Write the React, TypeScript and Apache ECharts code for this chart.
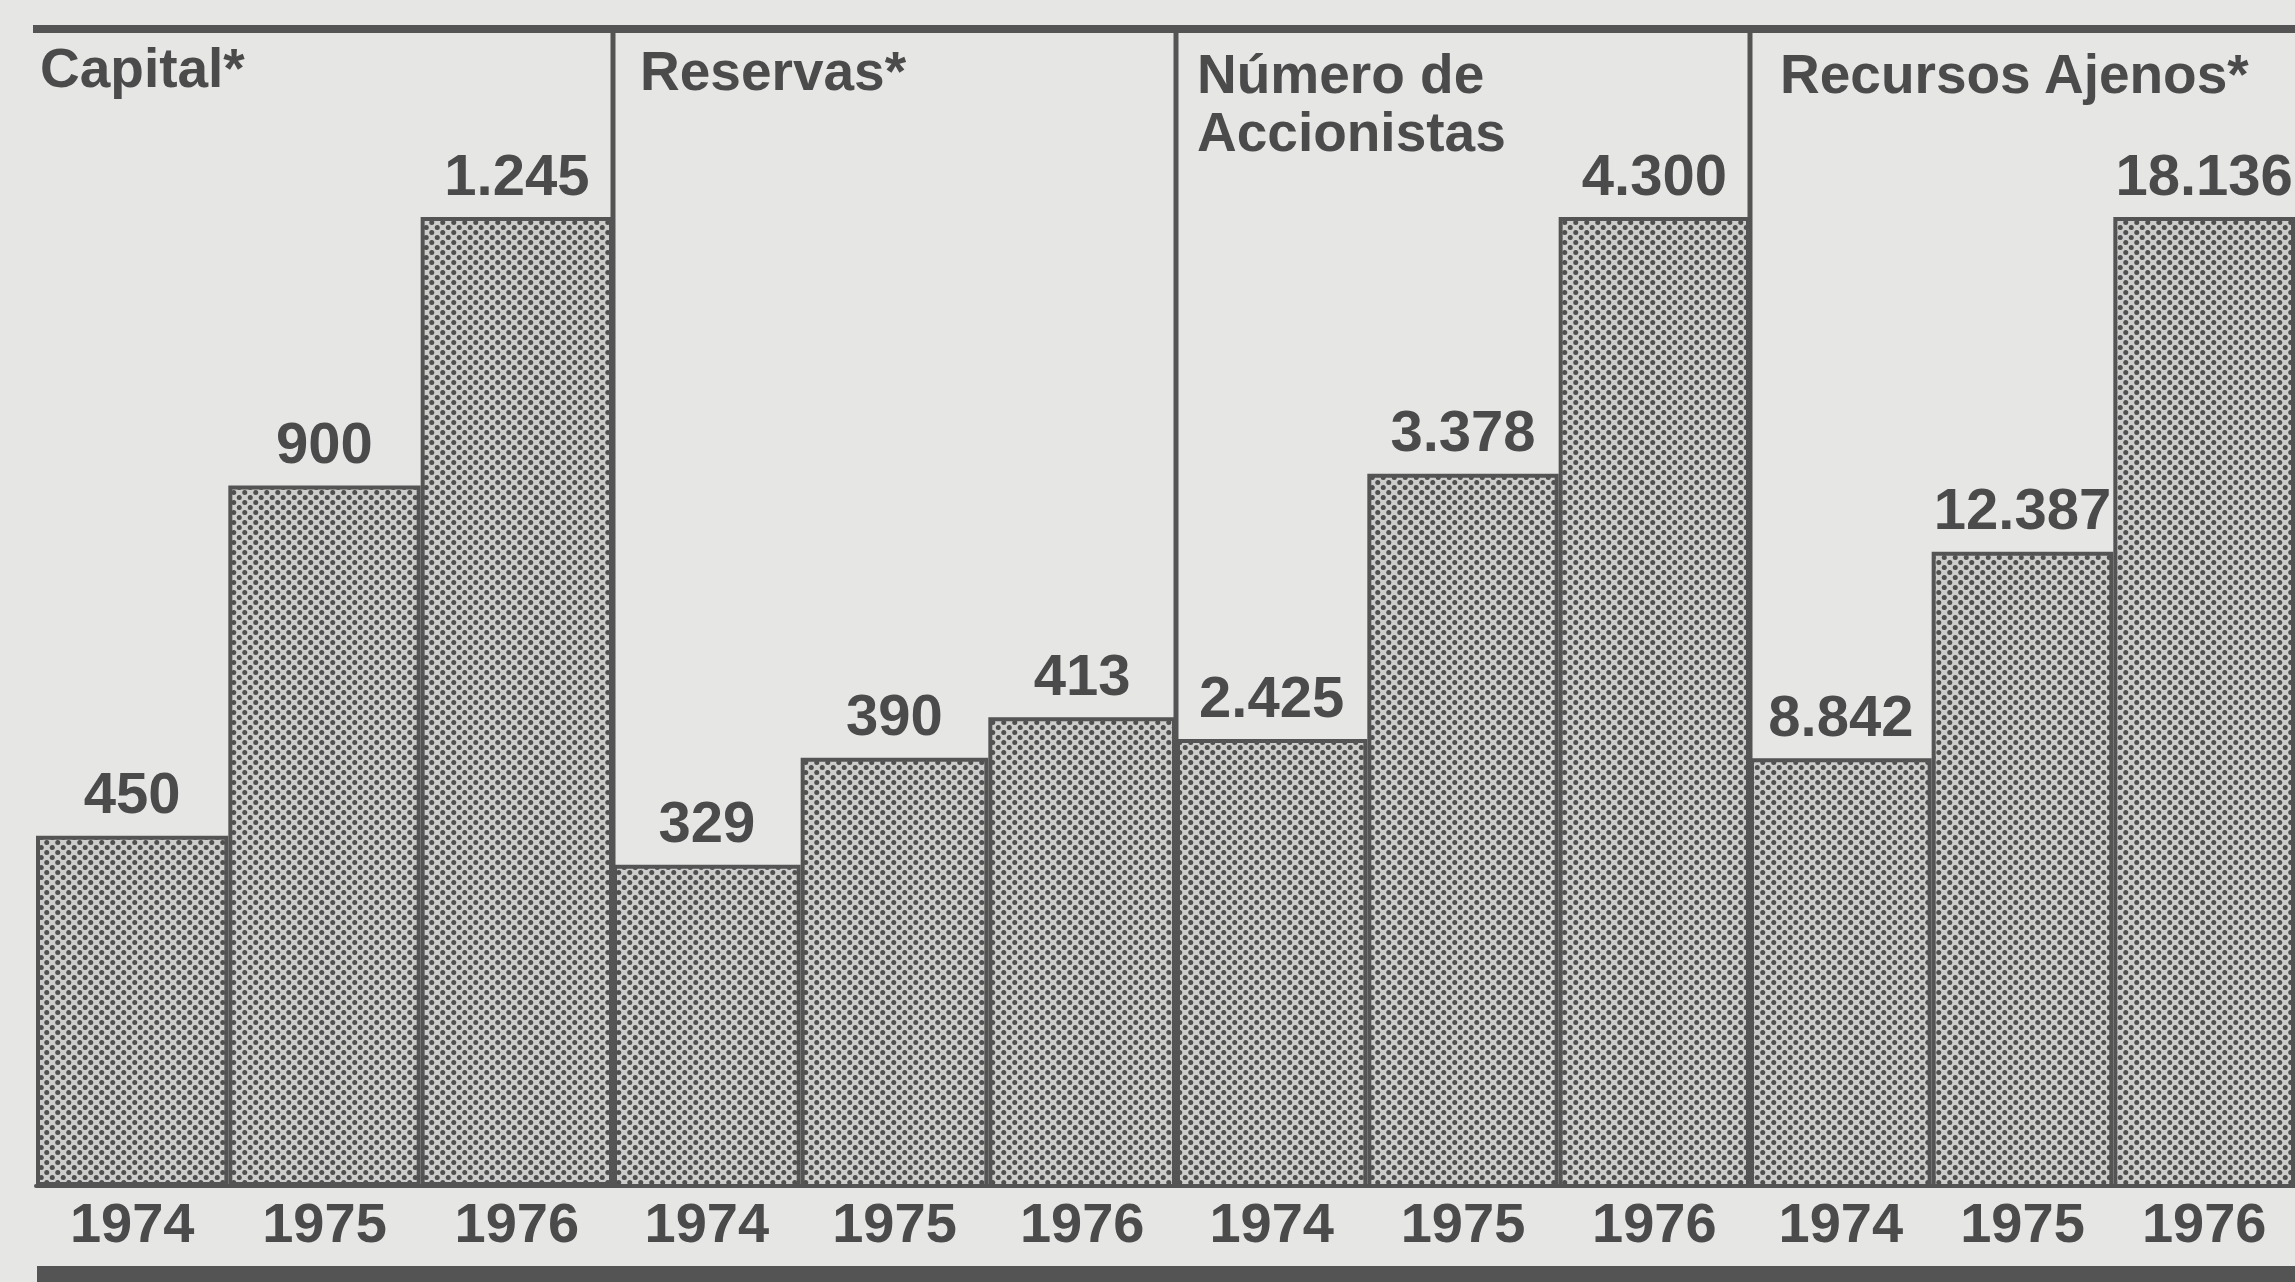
import React, { useEffect, useRef } from 'react';
import * as echarts from 'echarts';

// ---- data ----
const years = ['1974', '1975', '1976'];
const panelTitles = ['Capital*', 'Reservas*', 'Número de\nAccionistas', 'Recursos Ajenos*'];
const capital = [450, 900, 1245];
const reservas = [329, 390, 413];
const accionistas = [2425, 3378, 4300];
const recursosAjenos = [8842, 12387, 18136];
// per-panel value-axis ranges (each panel has its own scale)
const axisMin = [0, 146, 820, 1500];
const axisMax = [1245, 698, 4300, 18136];

const panels = [capital, reservas, accionistas, recursosAjenos];

// ---- layout ----
const W = 2295;
const H = 1282;
const panelLeft = [36, 613, 1176, 1750];
const panelWidth = [577, 563, 574, 572];
const gridTop = 217;
const baseY = 1186;
const titlePos = [
  [40, 39],
  [640, 42],
  [1197, 45],
  [1780, 45],
];
const FONT = '"Liberation Sans", Arial, Helvetica, sans-serif';
const INK = '#4b4b4b';
const LINE = '#545454';

function fmt(v: number): string {
  return String(v).replace(/\B(?=(\d{3})+(?!\d))/g, '.');
}

function makePattern(): HTMLCanvasElement {
  const c = document.createElement('canvas');
  c.width = 11;
  c.height = 10;
  const ctx = c.getContext('2d')!;
  ctx.fillStyle = '#cdcdcb';
  ctx.fillRect(0, 0, 11, 10);
  ctx.fillStyle = '#4f4f4f';
  const pts = [
    [2.75, 2.5],
    [8.25, 7.5],
  ];
  for (const [x, y] of pts) {
    ctx.beginPath();
    ctx.arc(x, y, 2.5, 0, Math.PI * 2);
    ctx.fill();
  }
  return c;
}

export default function App() {
  const ref = useRef<HTMLDivElement>(null);

  useEffect(() => {
    document.body.style.margin = '0';
    document.body.style.background = '#e6e6e4';
    if (!ref.current) return;
    const chart = echarts.init(ref.current, undefined, { renderer: 'svg' });
    const pattern = { image: makePattern(), repeat: 'repeat' };

    const grid = panels.map((_, i) => ({
      left: panelLeft[i],
      width: panelWidth[i],
      top: gridTop,
      bottom: H - baseY,
      containLabel: false,
    }));

    const xAxis = panels.map((_, i) => ({
      type: 'category',
      gridIndex: i,
      data: years,
      boundaryGap: true,
      axisLine: { show: true, lineStyle: { color: LINE, width: 4 } },
      axisTick: { show: false },
      axisLabel: {
        fontSize: 56,
        fontWeight: 'bold',
        fontFamily: FONT,
        color: INK,
        margin: 8,
      },
    }));

    const yAxis = panels.map((_, i) => ({
      type: 'value',
      gridIndex: i,
      min: axisMin[i],
      max: axisMax[i],
      show: false,
      splitLine: { show: false },
    }));

    const series = panels.map((vals, i) => ({
      type: 'bar',
      xAxisIndex: i,
      yAxisIndex: i,
      data: vals,
      barWidth: '100%',
      barCategoryGap: '0%',
      clip: true,
      itemStyle: {
        color: pattern,
        borderColor: LINE,
        borderWidth: 4,
      },
      label: {
        show: true,
        position: 'top',
        distance: 14,
        fontSize: 58,
        fontWeight: 'bold',
        fontFamily: FONT,
        color: INK,
        formatter: (p: any) => fmt(p.value),
      },
    }));

    const graphic: any[] = [
      {
        type: 'line',
        shape: { x1: 33, y1: 29, x2: W, y2: 29 },
        style: { stroke: LINE, lineWidth: 8 },
        z: 10,
      },
      {
        type: 'rect',
        shape: { x: 37, y: 1266, width: W - 37, height: 16 },
        style: { fill: LINE },
        z: 10,
      },
    ];
    for (let i = 1; i < panelLeft.length; i++) {
      graphic.push({
        type: 'line',
        shape: { x1: panelLeft[i], y1: 29, x2: panelLeft[i], y2: baseY },
        style: { stroke: LINE, lineWidth: 5 },
        z: 10,
      });
    }
    panelTitles.forEach((t, i) => {
      graphic.push({
        type: 'text',
        x: titlePos[i][0],
        y: titlePos[i][1],
        style: {
          text: t,
          fill: INK,
          font: `bold 55px ${FONT}`,
          lineHeight: 58,
          textAlign: 'left',
          textVerticalAlign: 'top',
        },
        z: 10,
      });
    });

    chart.setOption({
      animation: false,
      backgroundColor: '#e6e6e4',
      grid,
      xAxis,
      yAxis,
      series,
      graphic,
    });

    return () => chart.dispose();
  }, []);

  return <div ref={ref} style={{ width: W, height: H }} />;
}
